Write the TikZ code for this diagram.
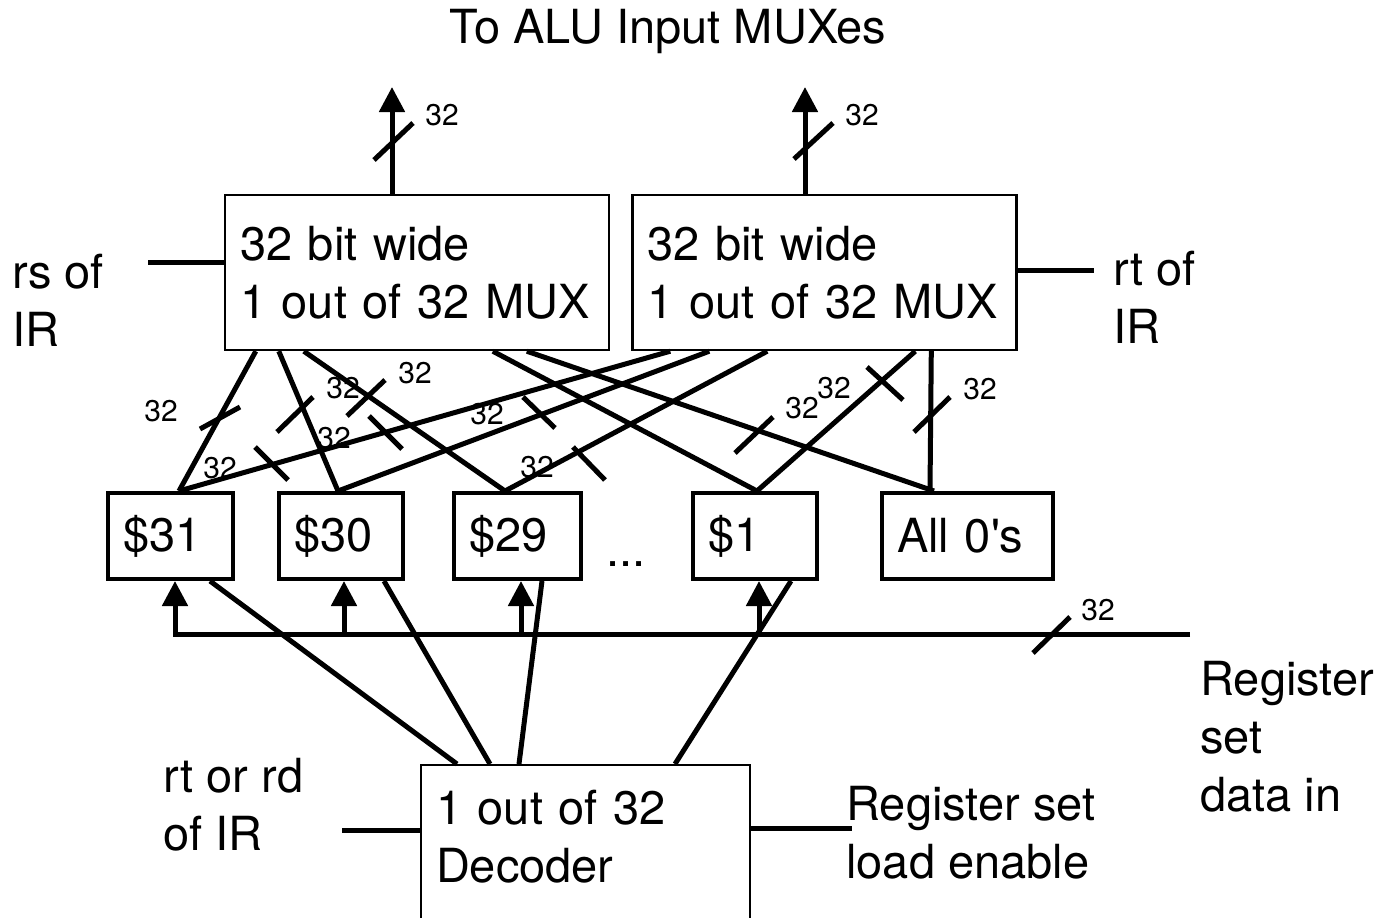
\documentclass[tikz,border=0pt]{standalone}
\usepackage{fontspec}
\setmainfont{TeX Gyre Heros}
\usetikzlibrary{arrows.meta,calc}

\tikzset{
  wire/.style={line width=2.5pt},
  cut/.style={line width=2.5pt},
  wd/.style={font=\fontsize{15}{18}\selectfont, inner sep=0pt},
  lbl/.style={font=\fontsize{23.5}{29}\selectfont, align=left, inner sep=0pt, anchor=north west},
  mux/.style={draw, line width=1.2pt, font=\fontsize{23.5}{29}\selectfont, text width=177pt,
    inner xsep=7.5pt, minimum height=77.5pt, align=left},
  reg/.style={draw, line width=2pt, font=\fontsize{23.5}{29}\selectfont, text width=#1,
    inner xsep=7.5pt, minimum height=43pt, align=left},
  >={Triangle[length=12.5pt,width=12.5pt]},
}

\begin{document}
\begin{tikzpicture}[x=0.5pt,y=-0.5pt]
  \useasboundingbox (0,0) rectangle (1394,917);
  \clip (0,0) rectangle (1394,917);
  % Title
  \node[font=\fontsize{23.5}{29}\selectfont, anchor=base, inner sep=0pt] (title) at (668,43) {To ALU Input MUXes};
  % MUXes
  \node[mux] (mux1) at (417,272.5) {32 bit wide\\1 out of 32 MUX};
  \node[mux] (mux2) at (824.5,272.5) {32 bit wide\\1 out of 32 MUX};
  % outputs
  \coordinate (out1) at (392,87);
  \coordinate (out2) at (805,87);
  \draw[wire,->] (out1 |- mux1.north) -- (out1);
  \draw[wire,->] (out2 |- mux2.north) -- (out2);
  \draw[cut] (374,160) -- (413,123);
  \draw[cut] (794,159) -- (833,123);
  \node[wd] (w1) at (442,115) {32};
  \node[wd] (w2) at (862,115) {32};
  % select inputs
  \coordinate (rs) at (148,262);
  \coordinate (rt) at (1094,270);
  \draw[wire] (rs) -- (rs -| mux1.west);
  \draw[wire] (mux2.east |- rt) -- (rt);
  \node[lbl] (rsir) at (12,254) {rs of\\IR};
  \node[lbl] (rtir) at (1113,251) {rt of\\IR};
  % registers
  \node[reg=47.5pt] (r31) at (170.5,536) {\$31};
  \node[reg=47pt] (r30) at (341,536) {\$30};
  \node[reg=48.5pt] (r29) at (517.5,536) {\$29};
  \node[font=\fontsize{23.5}{29}\selectfont, anchor=base, inner sep=0pt] (dots) at (626,566) {...};
  \node[reg=47pt] (r1) at (755,536) {\$1};
  \node[reg=70.5pt] (r0) at (967.5,536) {All 0\textquotesingle s};
  % MUX 1 inputs
  \draw[wire] ($(mux1.south west)+(32,0)$) -- ($(r31.north west)+(73,0)$);
  \draw[wire] ($(mux1.south west)+(55,0)$) -- ($(r30.north west)+(61,0)$);
  \draw[wire] ($(mux1.south west)+(80,0)$) -- ($(r29.north west)+(53,0)$);
  \draw[wire] ($(mux1.south west)+(269,0)$) -- ($(r1.north west)+(66,0)$);
  \draw[wire] ($(mux1.south west)+(303,0)$) -- ($(r0.north west)+(54,0)$);
  % MUX 2 inputs
  \draw[wire] ($(mux2.south west)+(39,0)$) -- ($(r31.north west)+(73,0)$);
  \draw[wire] ($(mux2.south west)+(78,0)$) -- ($(r30.north west)+(61,0)$);
  \draw[wire] ($(mux2.south west)+(136,0)$) -- ($(r29.north west)+(53,0)$);
  \draw[wire] ($(mux2.south west)+(284,0)$) -- ($(r1.north west)+(66,0)$);
  \draw[wire] ($(mux2.south west)+(300,0)$) -- ($(r0.north west)+(50,0)$);
  % bus marks
  \draw[cut] (200,429) -- (240,407);
  \draw[cut] (277,432) -- (313,397);
  \draw[cut] (347,416) -- (385,380);
  \draw[cut] (369,416) -- (402,449);
  \draw[cut] (255,447) -- (288,480);
  \draw[cut] (523,397) -- (555,428);
  \draw[cut] (573,447) -- (605,480);
  \draw[cut] (735,453) -- (773,417);
  \draw[cut] (867,367) -- (903,400);
  \draw[cut] (914,432) -- (950,397);
  \node[wd] (w3) at (161,411) {32};
  \node[wd] (w4) at (343,388) {32};
  \node[wd] (w5) at (415,373) {32};
  \node[wd] (w6) at (334,438) {32};
  \node[wd] (w7) at (220,468) {32};
  \node[wd] (w8) at (487,414) {32};
  \node[wd] (w9) at (537,467) {32};
  \node[wd] (w10) at (802,408) {32};
  \node[wd] (w11) at (834,388) {32};
  \node[wd] (w12) at (980,389) {32};
  % data in bus
  \coordinate (datain) at (1190,634);
  \coordinate (t31) at ($(r31.south west)+(69,0)$);
  \coordinate (t30) at ($(r30.south west)+(67,0)$);
  \coordinate (t29) at ($(r29.south west)+(69,0)$);
  \coordinate (t1) at ($(r1.south west)+(68,0)$);
  \draw[wire,->] (datain) -| (t31);
  \draw[wire,->] (datain -| t30) -- (t30);
  \draw[wire,->] (datain -| t29) -- (t29);
  \draw[wire,->] (datain -| t1) -- (t1);
  \draw[cut] (1033,653) -- (1070,617);
  \node[wd] (w13) at (1098,610) {32};
  \node[lbl] (datainlbl) at (1200,661) {Register\\set\\data in};
  % decoder
  \node[draw, line width=1pt, font=\fontsize{23.5}{29}\selectfont, text width=149.5pt,
    inner xsep=7.5pt, inner ysep=12.5pt, text depth=100pt, align=left, anchor=north west]
    (dec) at (420,764) {1 out of 32\\Decoder};
  \draw[wire] ($(dec.north west)+(37,0)$) -- ($(r31.south west)+(104,0)$);
  \draw[wire] ($(dec.north west)+(70,0)$) -- ($(r30.south west)+(107,0)$);
  \draw[wire] ($(dec.north west)+(99,0)$) -- ($(r29.south west)+(90,0)$);
  \draw[wire] ($(dec.north west)+(255,0)$) -- ($(r1.south west)+(100,0)$);
  \coordinate (rd) at (342,830);
  \coordinate (le) at (852,828);
  \draw[wire] (rd) -- (rd -| dec.west);
  \draw[wire] (dec.east |- le) -- (le);
  \node[lbl] (rdir) at (163,758) {rt or rd\\of IR};
  \node[lbl] (ldenable) at (846,786) {Register set\\load enable};
\end{tikzpicture}
\end{document}
